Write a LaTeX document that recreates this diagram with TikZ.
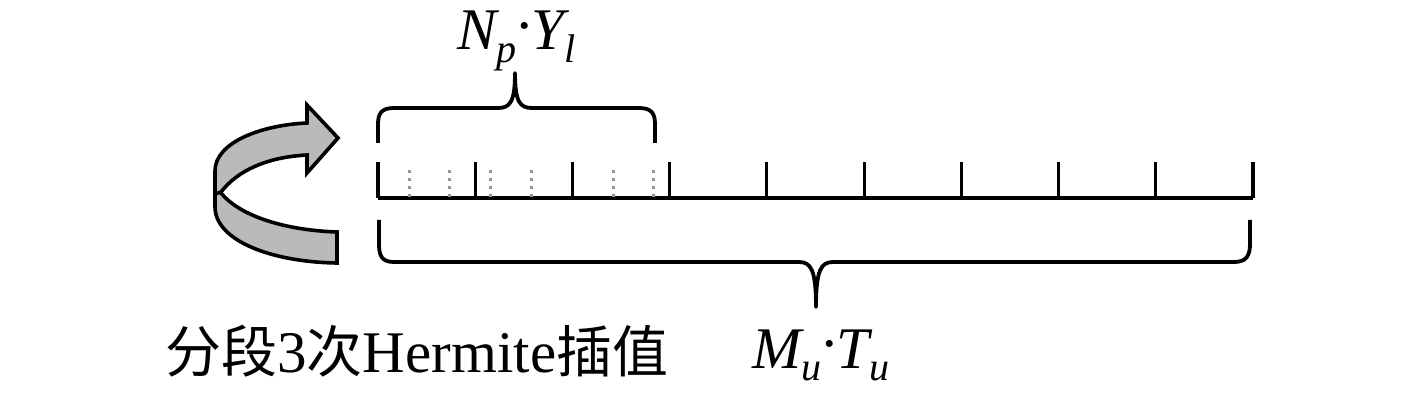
\documentclass[tikz,border=0pt]{standalone}
\usepackage{fontspec}
\setmainfont{Liberation Serif}
\newfontfamily\cjk{Noto Sans CJK SC}
\newcommand{\mysubx}[1]{\raisebox{-0.22em}{\fontsize{20}{20}\selectfont\itshape #1}}
\newcommand{\mydotx}{\raisebox{0.08em}{·}}
\begin{document}
\begin{tikzpicture}[x=0.5pt,y=-0.5pt,
  axisline/.style={line width=2pt},
  majortick/.style={line width=1.6pt},
  minortick/.style={line width=1.5pt, draw=black!42, dash pattern=on 1.5pt off 2.5pt},
  bracepath/.style={line width=1.9pt, line join=round},
  ribbon/.style={line width=1.8pt, fill=black!27, line join=miter},
  lbl/.style={inner sep=0pt, anchor=base west, font=\fontsize{29.5}{34}\selectfont}]
\useasboundingbox (0,0) rectangle (1417,400);
% axis
\coordinate (a0) at (378,198);
\coordinate (a1) at (1253,198);
\draw[axisline] (a0) -- (a1);
\foreach \k in {0,...,9}{
  \draw[majortick] ({378+97.22*\k},162) -- ({378+97.22*\k},198);
}
\foreach \k in {0,1,2,3,5,6}{
  \draw[minortick] ({409+40.83*\k},170) -- ({409+40.83*\k},197);
}
% top brace
\draw[bracepath] (378,143) -- (378,124) .. controls (378,113) and (382,108) .. (394,108)
  -- (498,108) .. controls (510,108) and (515,102) .. (515,73)
  .. controls (515,102) and (520,108) .. (532,108)
  -- (639,108) .. controls (651,108) and (655,113) .. (655,124) -- (655,143);
% bottom brace
\draw[bracepath] (379,220) -- (379,244) .. controls (379,256) and (382,262) .. (394,262)
  -- (799,262) .. controls (811,262) and (816,270) .. (816,307)
  .. controls (816,270) and (821,262) .. (833,262)
  -- (1234,262) .. controls (1246,262) and (1250,256) .. (1250,244) -- (1250,220);
% ribbon arrow
\draw[ribbon] (215,190) -- (215,207) .. controls (215,240) and (270,262) .. (337,263) -- (337,232)
  .. controls (280,230) and (238,214) .. (221,193) -- cycle;
\draw[ribbon] (215,194) -- (215,171) .. controls (215,142) and (262,125) .. (307,123)
  -- (307,105) -- (338,138) -- (307,173) -- (307,155)
  .. controls (268,157) and (238,170) .. (221,192) -- cycle;
% labels
\node[lbl] (np) at (457,50) {\itshape N\mysubx{p}\mydotx Y\mysubx{l}};
\node[lbl] (herm) at (165,372) {{\cjk\fontsize{28}{34}\selectfont 分段}3{\cjk\fontsize{28}{34}\selectfont 次}Hermite{\cjk\fontsize{28}{34}\selectfont 插值}};
\node[lbl] (mt) at (752,368) {\itshape M\mysubx{u}\mydotx T\mysubx{u}};
\end{tikzpicture}
\end{document}
